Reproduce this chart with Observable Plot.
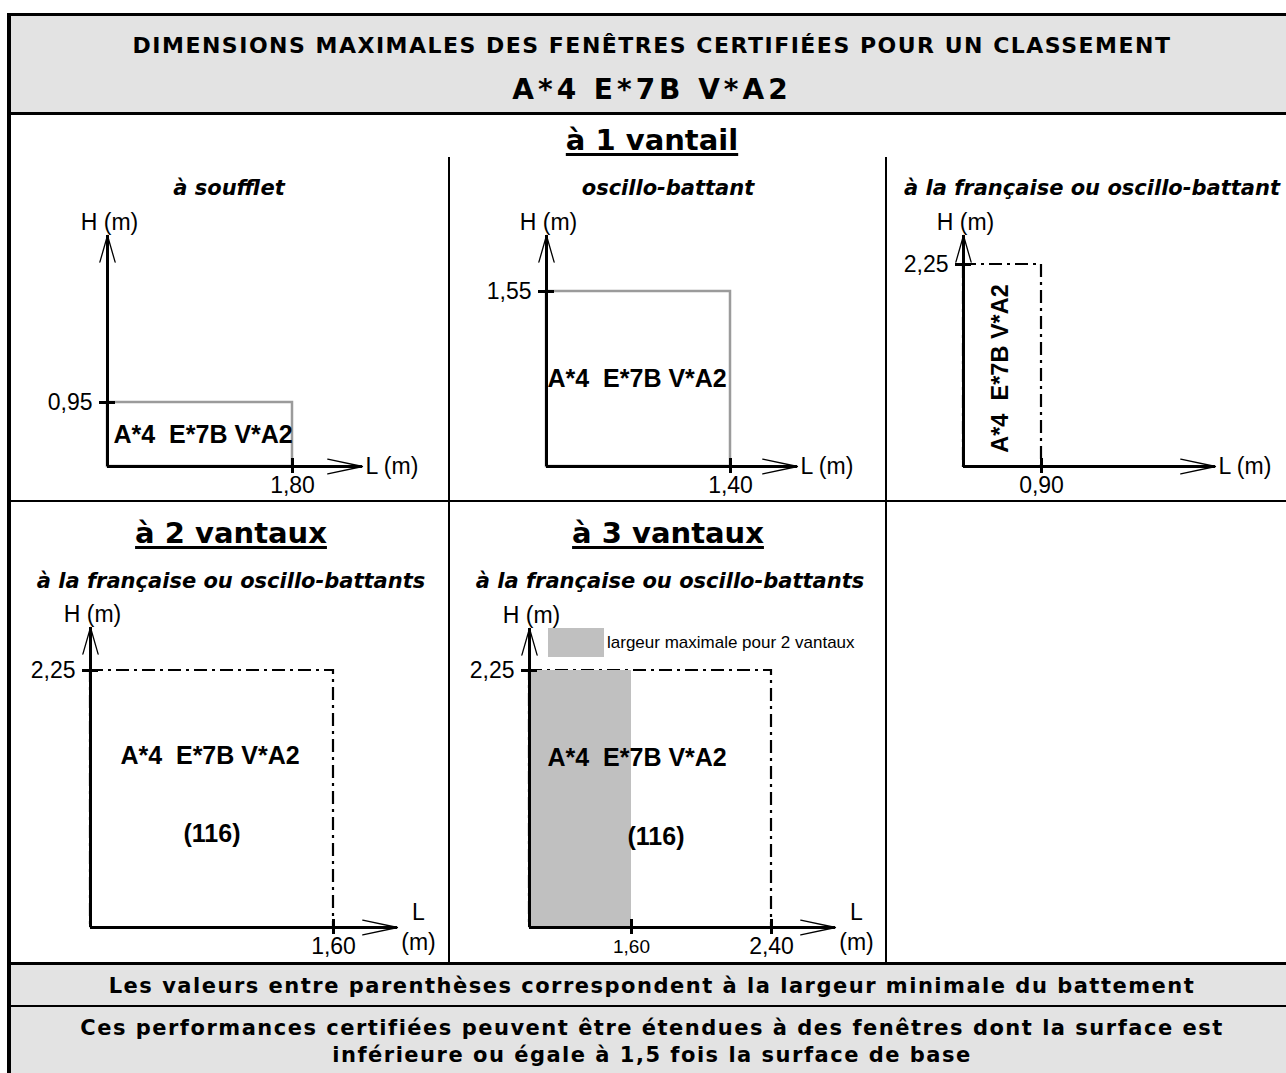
<!DOCTYPE html>
<html><head><meta charset="utf-8">
<script src="https://cdn.jsdelivr.net/npm/d3@7"></script>
<script src="https://cdn.jsdelivr.net/npm/@observablehq/plot@0.6"></script>
<style>
html,body{margin:0;padding:0;background:#fff;}
#page{position:relative;width:1286px;height:1073px;overflow:hidden;background:#fff;font-family:"DejaVu Sans",Verdana,sans-serif;color:#000;}
</style></head>
<body><div id="page"></div>
<script>
// ---------------- data ----------------
const headerTitle = "DIMENSIONS MAXIMALES DES FENÊTRES CERTIFIÉES POUR UN CLASSEMENT";
const classement = "A*4 E*7B V*A2";
const groupTitles = ["à 1 vantail", "à 2 vantaux", "à 3 vantaux"];
const panelTypes = ["à soufflet", "oscillo-battant", "à la française ou oscillo-battant",
                    "à la française ou oscillo-battants", "à la française ou oscillo-battants"];
const maxL = [1.80, 1.40, 0.90, 1.60, 2.40];          // largeur maximale (m)
const maxH = [0.95, 1.55, 2.25, 2.25, 2.25];          // hauteur maximale (m)
const widthTicks = [[1.80], [1.40], [0.90], [1.60], [1.60, 2.40]];
const heightTicks = [[0.95], [1.55], [2.25], [2.25], [2.25]];
const minBattement = [null, null, null, 116, 116];   // largeur minimale du battement
const twoLeafMaxL = 1.60;                             // largeur maximale pour 2 vantaux
const legendLabel = "largeur maximale pour 2 vantaux";
const notes = ["Les valeurs entre parenthèses correspondent à la largeur minimale du battement",
               "Ces performances certifiées peuvent être étendues à des fenêtres dont la surface est",
               "inférieure ou égale à 1,5 fois la surface de base"];

// ---------------- layout ----------------
const GRAY = "#e3e3e3";
const page = document.getElementById("page");
function box(css){const d=document.createElement("div");d.style.position="absolute";Object.assign(d.style,css);page.appendChild(d);return d;}
function label(str,cx,cy,size,css={}){
  const lh=Math.round(size*1.4);
  const d=box(Object.assign({left:(cx-800)+"px",width:"1600px",top:(cy-lh/2)+"px",height:lh+"px",
    lineHeight:lh+"px",textAlign:"center",whiteSpace:"nowrap",fontSize:size+"px",fontWeight:"bold"},css));
  d.textContent=str;return d;
}
// frame and table
box({left:"7px",top:"13px",width:"1300px",height:"1100px",borderTop:"3px solid #000",borderLeft:"4px solid #000"});
box({left:"11px",top:"16px",width:"1290px",height:"96px",background:GRAY});
box({left:"11px",top:"112px",width:"1290px",height:"3px",background:"#000"});
box({left:"448px",top:"157px",width:"2px",height:"806px",background:"#000"});
box({left:"885px",top:"157px",width:"2px",height:"806px",background:"#000"});
box({left:"11px",top:"500px",width:"1290px",height:"2px",background:"#000"});
box({left:"11px",top:"962px",width:"1290px",height:"111px",background:GRAY});
box({left:"11px",top:"962px",width:"1290px",height:"3px",background:"#000"});
box({left:"11px",top:"1005px",width:"1290px",height:"2px",background:"#000"});

// header
label(headerTitle,652,45,22,{letterSpacing:"1.5px"});
label(classement,652,89,28,{letterSpacing:"4px"});
// group titles
const under={textDecoration:"underline",textDecorationThickness:"2.5px",textUnderlineOffset:"3px"};
label(groupTitles[0],652,140,29,under);
label(groupTitles[1],231,533,29,under);
label(groupTitles[2],668,533,29,under);
// panel subtitles
const subPos=[[229,188],[668,188],[1092,188],[231,581],[670,581]];
panelTypes.forEach((t,i)=>label(t,subPos[i][0],subPos[i][1],21,{fontStyle:"italic"}));
// notes
label(notes[0],652,986,21,{letterSpacing:"1.5px"});
label(notes[1],652,1028,21,{letterSpacing:"1.5px"});
label(notes[2],652,1055,21,{letterSpacing:"1.5px"});

// legend (panel 5)
box({left:"548px",top:"628px",width:"56px",height:"29px",background:"#c0c0c0"});
const lg=box({left:"607px",top:"631px",height:"24px",lineHeight:"24px",fontSize:"17px",
  fontFamily:"'Liberation Sans',Arial,sans-serif",whiteSpace:"nowrap"});
lg.textContent=legendLabel;

// ---------------- charts ----------------
const fmt=v=>v.toFixed(2).replace(".",",");
// pixel layout of each panel: origin + position of each tick, arrow tips
const panels=[
  {left:10, top:200,w:438,h:300,xPx:[97,282],    yPx:[266,202],tipX:352,tipY:35,bottom:false,frame:"gray", xFont:[23],
   lab:{f:0,  dx:6,  dy:0,  anchor:"start",size:25}},
  {left:452,top:200,w:432,h:300,xPx:[94,278],    yPx:[266,91], tipX:345,tipY:35,bottom:false,frame:"gray", xFont:[23],
   lab:{f:0,  dx:1,  dy:0,  anchor:"start",size:25}},
  {left:888,top:200,w:398,h:300,xPx:[75,153],    yPx:[266,64], tipX:327,tipY:35,bottom:false,frame:"dash", xFont:[23],
   lab:{f:0.5,dx:-2, dy:3,  anchor:"middle",rotate:-90,size:23.5}},
  {left:10, top:595,w:438,h:367,xPx:[80,323],    yPx:[332,75], tipX:387,tipY:32,bottom:true, frame:"dash", xFont:[23],
   lab:{f:0.5,dx:-2, dy:-43,anchor:"middle",size:25}, bat:{f:0.5,dx:0,dy:35,anchor:"middle"}},
  {left:452,top:595,w:432,h:367,xPx:[77,179,319],yPx:[332,75], tipX:383,tipY:33,bottom:true, frame:"dash", xFont:[19,23],
   lab:{f:0,dx:18,dy:-41,anchor:"start",size:25}, bat:{f:0,dx:98,dy:38,anchor:"start"}},
];
const FONT="'Liberation Sans',Arial,sans-serif";
const XY={x1:"x1",x2:"x2",y1:"y1",y2:"y2"};
panels.forEach((p,i)=>{
  const L=maxL[i], H=maxH[i];
  const xt=widthTicks[i], yt=heightTicks[i];
  const xDom=[0,xt[xt.length-1]], xRng=[p.xPx[0],p.xPx[p.xPx.length-1]];
  const yDom=[0,yt[yt.length-1]], yRng=[p.yPx[0],p.yPx[p.yPx.length-1]];
  // the schematic is not to scale when two widths are marked: use a power scale through both ticks
  let exponent=1;
  if(xt.length>1) exponent=Math.log((p.xPx[1]-p.xPx[0])/(xRng[1]-xRng[0]))/Math.log(xt[0]/xDom[1]);
  const xs=d3.scalePow().exponent(exponent).domain(xDom).range(xRng);
  const ys=d3.scaleLinear(yDom,yRng);
  const lEnd=xs.invert(p.tipX), hEnd=ys.invert(p.tipY);
  const marks=[];
  const frameOpts={...XY,fill:"none",stroke:p.frame==="gray"?"#9b9b9b":"#000",strokeWidth:p.frame==="gray"?2.5:2.2};
  if(p.frame==="dash") frameOpts.strokeDasharray="13,5,3,5";
  marks.push(Plot.rect([{x1:0,x2:L,y1:0,y2:H}],frameOpts));
  if(i===4) marks.push(Plot.rect([{x1:0,x2:twoLeafMaxL,y1:0,y2:H}],{...XY,fill:"#c0c0c0"}));
  // arrow heads (thin) and axis shafts (thick)
  marks.push(Plot.arrow([{x1:0,y1:0,x2:lEnd,y2:0}],{...XY,stroke:"#000",strokeWidth:1.3,headAngle:24,headLength:41}));
  marks.push(Plot.arrow([{x1:0,y1:0,x2:0,y2:hEnd}],{...XY,stroke:"#000",strokeWidth:1.3,headAngle:32,headLength:32}));
  marks.push(Plot.ruleY([{y:0,x1:0,x2:lEnd}],{y:"y",x1:"x1",x2:"x2",stroke:"#000",strokeWidth:3}));
  marks.push(Plot.ruleX([{x:0,y1:0,y2:hEnd}],{x:"x",y1:"y1",y2:"y2",stroke:"#000",strokeWidth:3}));
  // ticks
  marks.push(Plot.ruleX(xt.map(v=>({x:v,y1:0,y2:0})),{x:"x",y1:"y1",y2:"y2",stroke:"#000",strokeWidth:3,insetTop:-8,insetBottom:-7}));
  marks.push(Plot.ruleY(yt.map(v=>({y:v,x1:0,x2:0})),{y:"y",x1:"x1",x2:"x2",stroke:"#000",strokeWidth:3,insetLeft:-8,insetRight:-8}));
  // tick labels
  xt.forEach((v,j)=>marks.push(Plot.text([{x:v,y:0}],{x:"x",y:"y",text:d=>fmt(d.x),dy:19,fontSize:p.xFont[j],fontFamily:FONT})));
  marks.push(Plot.text(yt.map(v=>({x:0,y:v})),{x:"x",y:"y",text:d=>fmt(d.y),dx:-15,textAnchor:"end",fontSize:23,fontFamily:FONT}));
  // axis titles
  marks.push(Plot.text([{x:0,y:hEnd}],{x:"x",y:"y",text:()=>"H (m)",dx:2,dy:-13,fontSize:23,fontFamily:FONT}));
  if(!p.bottom){
    marks.push(Plot.text([{x:lEnd,y:0}],{x:"x",y:"y",text:()=>"L (m)",dx:3,textAnchor:"start",fontSize:23,fontFamily:FONT}));
  } else {
    marks.push(Plot.text([{x:lEnd,y:0}],{x:"x",y:"y",text:()=>"L",dx:21,dy:-15,fontSize:23,fontFamily:FONT}));
    marks.push(Plot.text([{x:lEnd,y:0}],{x:"x",y:"y",text:()=>"(m)",dx:21,dy:15,fontSize:23,fontFamily:FONT}));
  }
  // classement inside the window
  const labOpts={x:"x",y:"y",text:()=>classement.replace(" ","\u00a0\u00a0"),dx:p.lab.dx,dy:p.lab.dy,
    textAnchor:p.lab.anchor,fontSize:p.lab.size,fontWeight:"bold",fontFamily:FONT};
  if(p.lab.rotate) labOpts.rotate=p.lab.rotate;
  marks.push(Plot.text([{x:L*p.lab.f,y:H/2}],labOpts));
  if(minBattement[i]!=null)
    marks.push(Plot.text([{x:L*p.bat.f,y:H/2,v:minBattement[i]}],{x:"x",y:"y",text:d=>`(${d.v})`,dx:p.bat.dx,dy:p.bat.dy,
      textAnchor:p.bat.anchor,fontSize:25,fontWeight:"bold",fontFamily:FONT}));
  const xScale={domain:xDom,range:xRng,axis:null};
  if(exponent!==1){xScale.type="pow";xScale.exponent=exponent;}
  const svg=Plot.plot({width:p.w,height:p.h,
    x:xScale,
    y:{domain:yDom,range:yRng,axis:null},
    style:{background:"transparent",overflow:"visible",fontFamily:FONT,color:"#000"},
    marks});
  const holder=box({left:p.left+"px",top:p.top+"px",width:p.w+"px",height:p.h+"px"});
  holder.appendChild(svg);
});
</script>
</body></html>
